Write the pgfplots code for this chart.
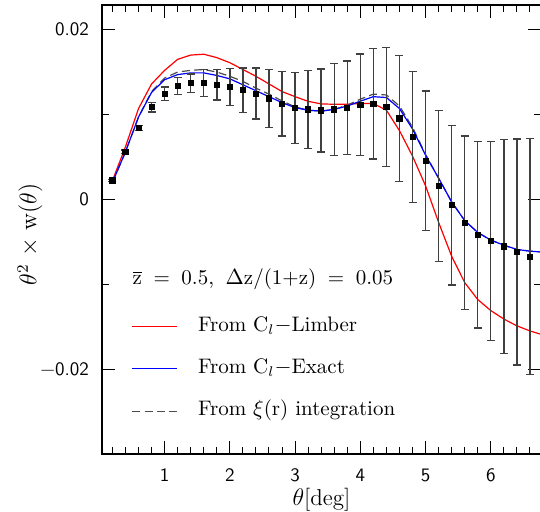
\documentclass[border=0pt]{standalone}
\usepackage{fontspec}
\usepackage{pgfplots}
\pgfplotsset{compat=1.18}
\usetikzlibrary{calc}
\begin{document}
\begin{tikzpicture}
\begin{axis}[name=ax, scale only axis, width=219.5pt, height=224.5pt,
  xmin=0.04, xmax=6.77, ymin=-0.03, ymax=0.0229,
  xtick={1,2,3,4,5,6}, xticklabels={1,2,3,4,5,6},
  minor xtick={0.2,0.4,0.6,0.8,1.2,1.4,1.6,1.8,2.2,2.4,2.6,2.8,3.2,3.4,3.6,3.8,4.2,4.4,4.6,4.8,5.2,5.4,5.6,5.8,6.2,6.4,6.6},
  ytick={-0.02,0,0.02}, yticklabels={−0.02,0,0.02},
  minor ytick={-0.03,-0.01,0.01},
  scaled y ticks=false,
  tick align=inside, major tick length=6.5pt, minor tick length=3.5pt,
  tick style={black, line width=0.5pt},
  axis line style={line width=0.6pt},
  ticklabel style={font=\sffamily\fontsize{9.5}{10}\selectfont},
  xticklabel style={yshift=-4pt}, yticklabel style={xshift=-3pt},
  xlabel={$\theta$[deg]},
  xlabel style={font=\fontsize{11.5}{13}\selectfont, at={(axis description cs:0.5,-0.1136)}, anchor=base},
  ylabel={$\theta^2$ $\times$ w($\theta$)},
  ylabel style={font=\fontsize{12}{14}\selectfont, at={(axis description cs:-0.164,0.489)}, anchor=center, rotate=0},
  clip=true,
]
% C_l Limber (red)
\addplot[red, line width=0.6pt] table {
0.2 0.0022
0.4 0.0062
0.6 0.0107
0.8 0.0136
1.0 0.0152
1.2 0.0165
1.4 0.0170
1.6 0.0171
1.8 0.0167
2.0 0.0161
2.2 0.0153
2.4 0.0145
2.6 0.0136
2.8 0.0127
3.0 0.0121
3.2 0.01155
3.4 0.01125
3.6 0.0112
3.8 0.0112
4.0 0.0113
4.2 0.0113
4.4 0.0105
4.6 0.0081
4.8 0.0051
5.0 0.0016
5.2 -0.0027
5.4 -0.0067
5.6 -0.0098
5.8 -0.0118
6.0 -0.0131
6.2 -0.0141
6.4 -0.0149
6.6 -0.0155
6.77 -0.0159
};
% xi(r) integration (dashed)
\addplot[black!70, line width=0.6pt, dash pattern=on 4pt off 2.2pt] table {
0.2 0.0020
0.4 0.0056
0.6 0.0097
0.8 0.0127
1.0 0.0143
1.2 0.0150
1.4 0.0152
1.6 0.0153
1.8 0.0150
2.0 0.0145
2.2 0.0139
2.4 0.0131
2.6 0.0124
2.8 0.0116
3.0 0.0109
3.2 0.0105
3.4 0.0104
3.6 0.0106
3.8 0.0111
4.0 0.0118
4.2 0.0124
4.4 0.0123
4.6 0.0110
4.8 0.0085
5.0 0.0053
5.2 0.0025
5.4 -0.0003
5.6 -0.0025
5.8 -0.0039
6.0 -0.0048
6.2 -0.0054
6.4 -0.0059
6.6 -0.0061
6.77 -0.0062
};
% C_l Exact (blue)
\addplot[blue, line width=0.6pt] table {
0.2 0.0020
0.4 0.0056
0.6 0.0097
0.8 0.0126
1.0 0.0141
1.2 0.0147
1.4 0.0149
1.6 0.0149
1.8 0.0146
2.0 0.0142
2.2 0.0135
2.4 0.0128
2.6 0.0121
2.8 0.0114
3.0 0.0108
3.2 0.0105
3.4 0.0104
3.6 0.0106
3.8 0.0110
4.0 0.01157
4.2 0.0121
4.4 0.0120
4.6 0.0107
4.8 0.0083
5.0 0.0052
5.2 0.0025
5.4 -0.0003
5.6 -0.0025
5.8 -0.0039
6.0 -0.0048
6.2 -0.0054
6.4 -0.0059
6.6 -0.0061
6.77 -0.0062
};
% measured points with error bars
\addplot[only marks, mark=square*, mark size=1.3pt, black,
  error bars/.cd, y dir=both, y explicit,
  error bar style={line width=0.7pt, black!75},
  error mark options={rotate=90, mark size=2pt, line width=0.7pt, black!75}]
  table[x=x, y=y, y error=e] {
x y e
0.2 0.00224 0.0001
0.4 0.0056 0.0002
0.6 0.0084 0.0003
0.8 0.01086 0.00055
1.0 0.01243 0.0008
1.2 0.01337 0.001
1.4 0.01369 0.0011
1.6 0.01372 0.0016
1.8 0.01353 0.0018
2.0 0.01325 0.0022
2.2 0.01286 0.0026
2.4 0.01247 0.003
2.6 0.0119 0.0034
2.8 0.01125 0.0038
3.0 0.01078 0.0042
3.2 0.01059 0.0046
3.4 0.01047 0.0049
3.6 0.01059 0.0054
3.8 0.01082 0.0055
4.0 0.01114 0.006
4.2 0.01125 0.0065
4.4 0.0109 0.007
4.6 0.00953 0.0074
4.8 0.00733 0.0077
5.0 0.00455 0.0082
5.2 0.00157 0.0089
5.4 -0.00067 0.0094
5.6 -0.00275 0.0102
5.8 -0.00416 0.011
6.0 -0.0049 0.0117
6.2 -0.00553 0.0126
6.4 -0.0062 0.0133
6.6 -0.00675 0.0139
};
% legend
\node[anchor=base west, inner sep=0pt, font=\fontsize{10.5}{12}\selectfont] at (axis cs:0.503,-0.0100)
  {$\overline{\mathrm{z}}$\hspace{5.8pt}=\hspace{5.8pt}0.5,\hspace{5.8pt}$\Delta$z/(1+z)\hspace{5.8pt}=\hspace{5.8pt}0.05};
\draw[red, line width=0.6pt] (axis cs:0.503,-0.01494) -- (axis cs:1.193,-0.01494);
\draw[blue, line width=0.6pt] (axis cs:0.503,-0.01988) -- (axis cs:1.193,-0.01988);
\draw[black!70, line width=0.6pt, dash pattern=on 4pt off 2.2pt] (axis cs:0.503,-0.0250) -- (axis cs:1.193,-0.0250);
\node[anchor=base west, inner sep=0pt, font=\fontsize{10.5}{12}\selectfont] at (axis cs:1.506,-0.01556) {From C$_l$$-$Limber};
\node[anchor=base west, inner sep=0pt, font=\fontsize{10.5}{12}\selectfont] at (axis cs:1.506,-0.02051) {From C$_l$$-$Exact};
\node[anchor=base west, inner sep=0pt, font=\fontsize{10.5}{12}\selectfont] at (axis cs:1.506,-0.02549) {From $\xi$(r) integration};
\end{axis}
\pgfresetboundingbox
\useasboundingbox ($(ax.south west)+(-51pt,-29pt)$) rectangle ($(ax.north west)+(219pt,2.5pt)$);
\end{tikzpicture}
\end{document}
